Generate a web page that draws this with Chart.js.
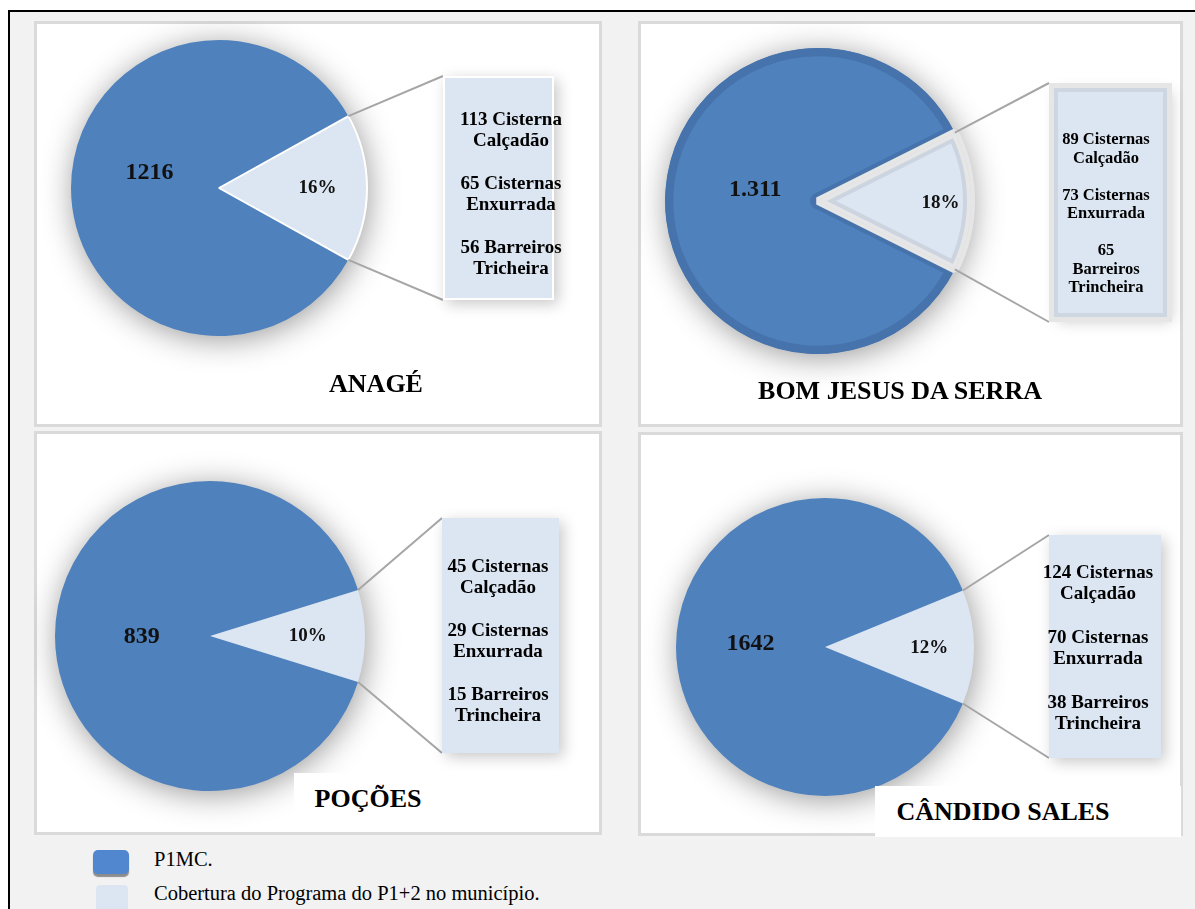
<!DOCTYPE html>
<html lang="pt">
<head>
<meta charset="utf-8">
<title>P1MC e P1+2 por município</title>
<script src="https://cdn.jsdelivr.net/npm/chart.js@4.4.1/dist/chart.umd.min.js"></script>
<style>
  html, body { margin: 0; padding: 0; background: #fff; }
  body { width: 1195px; height: 909px; position: relative; overflow: hidden;
         font-family: "Liberation Serif", "Times New Roman", serif; color: #000; }
  #frame { position: absolute; left: 8px; top: 10px; right: -10px; bottom: -10px;
           border-left: 2px solid #000; border-top: 2px solid #000; background: #f2f2f2; }
  .panel { position: absolute; box-sizing: border-box; background: #fff; border: 3px solid #dadada; }
  .chart { position: absolute; }
  .box { position: absolute; box-sizing: border-box; background: #dce6f2;
         box-shadow: 4px 4px 14px rgba(0, 0, 0, 0.22); }
  .box-white { border: 2px solid #fff; }
  .box-double { border: 4px solid #cdd6e1; outline: 5px solid #e6e6e6; }
  .box-text { position: absolute; width: 200px; font-weight: bold; text-align: center; white-space: nowrap; }
  .box-text p { margin: 0; }
  .title { position: absolute; font-weight: bold; font-size: 26px; line-height: 30px;
           white-space: nowrap; transform: translateX(-50%); }
  .title-bg { position: absolute; background: #fff; }
  .legend-key { position: absolute; }
  .legend-text { position: absolute; font-size: 20.5px; line-height: 24px; white-space: nowrap; }
</style>
</head>
<body>
<div id="frame"></div>
<script>
const DARK = '#4f81bd';
const LIGHT = '#dce6f2';

// data
const municipios = ['ANAGÉ', 'BOM JESUS DA SERRA', 'POÇÕES', 'CÂNDIDO SALES'];
const p1mc = [1216, 1311, 839, 1642];
const p1mcLabels = ['1216', '1.311', '839', '1642'];
const cisternasCalcadao = [113, 89, 45, 124];
const cisternasEnxurrada = [65, 73, 29, 70];
const barreirosTrincheira = [56, 65, 15, 38];
const coberturaLabels = ['16%', '18%', '10%', '12%'];
const itemLabels = [
  ['Cisterna\nCalçadão', 'Cisternas\nEnxurrada', 'Barreiros\nTricheira'],
  ['Cisternas\nCalçadão', 'Cisternas\nEnxurrada', '\nBarreiros\nTrincheira'],
  ['Cisternas\nCalçadão', 'Cisternas\nEnxurrada', 'Barreiros\nTrincheira'],
  ['Cisternas\nCalçadão', 'Cisternas\nEnxurrada', 'Barreiros\nTrincheira']
];
const seriesNames = ['P1MC.', 'Cobertura do Programa do P1+2 no município.'];

// page layout (pixels)
const layout = [
  { panel: [34, 21, 568, 406], pie: [219, 188, 148], box: [443, 76, 111, 224], boxClass: 'box-white',
    text: { cx: 511, top: 108, size: 19, lh: 21, gap: 22 }, title: { cx: 376, base: 393 },
    darkLbl: [0.47, -15], lightLbl: [0.665, 0], sliceEdge: 2, fancy: false },
  { panel: [638, 21, 545, 406], pie: [818, 201, 153], box: [1049, 83, 123, 239], boxClass: 'box-double',
    text: { cx: 1106, top: 130.2, size: 16.5, lh: 18.5, gap: 18.5 }, title: { cx: 900, base: 400 },
    darkLbl: [0.41, -11], lightLbl: [0.80, 2], sliceEdge: 0, fancy: true },
  { panel: [34, 431, 568, 404], pie: [210, 636, 155], box: [442, 518, 117, 235], boxClass: '',
    text: { cx: 498, top: 555, size: 19, lh: 21, gap: 22 }, title: { cx: 368, base: 808 },
    titleBg: [294, 773, 192, 59], darkLbl: [0.44, 1], lightLbl: [0.63, 0], sliceEdge: 0, fancy: false },
  { panel: [638, 432, 545, 404], pie: [825, 647, 149], box: [1049, 535, 112, 223], boxClass: '',
    text: { cx: 1098, top: 561, size: 19, lh: 21, gap: 23 }, title: { cx: 1003, base: 821 },
    titleBg: [875, 786, 306, 51], darkLbl: [0.50, -3], lightLbl: [0.70, 1], sliceEdge: 0, fancy: false }
];

const barOfPie = {
  id: 'barOfPie',
  beforeDatasetsDraw(chart) {
    // soft halo under the whole pie
    const arc = chart.getDatasetMeta(0).data[0];
    const ctx = chart.ctx;
    ctx.save();
    ctx.shadowColor = 'rgba(0, 0, 0, 0.42)';
    ctx.shadowBlur = 32;
    ctx.shadowOffsetX = 2;
    ctx.shadowOffsetY = 4;
    ctx.fillStyle = DARK;
    ctx.beginPath();
    ctx.arc(arc.x, arc.y, arc.outerRadius - 1, 0, Math.PI * 2);
    ctx.fill();
    ctx.restore();
  },
  afterDatasetsDraw(chart, args, opts) {
    const ctx = chart.ctx;
    const meta = chart.getDatasetMeta(0);
    const dark = meta.data[0].getProps(['x', 'y', 'startAngle', 'endAngle', 'outerRadius'], true);
    const light = meta.data[1].getProps(['x', 'y', 'startAngle', 'endAngle', 'outerRadius'], true);
    const R = light.outerRadius;

    // two-tone frame on the small slice (Bom Jesus da Serra style)
    if (opts.fancy) {
      const path = () => {
        ctx.beginPath();
        ctx.moveTo(light.x, light.y);
        ctx.arc(light.x, light.y, R, light.startAngle, light.endAngle);
        ctx.closePath();
      };
      ctx.save();
      ctx.lineJoin = 'bevel';
      path(); ctx.strokeStyle = '#e6e6e6'; ctx.lineWidth = 8; ctx.stroke();
      path(); ctx.clip();
      path(); ctx.strokeStyle = '#cbd4df'; ctx.lineWidth = 16; ctx.stroke();
      path(); ctx.strokeStyle = '#e6e6e6'; ctx.lineWidth = 8; ctx.stroke();
      ctx.restore();
    }

    // connector lines from the small slice to the box
    const [bx, by, bw, bh] = opts.box;
    ctx.save();
    ctx.strokeStyle = '#a6a6a6';
    ctx.lineWidth = 2;
    ctx.beginPath();
    ctx.moveTo(light.x + R * Math.cos(light.startAngle), light.y + R * Math.sin(light.startAngle));
    ctx.lineTo(bx, by);
    ctx.moveTo(light.x + R * Math.cos(light.endAngle), light.y + R * Math.sin(light.endAngle));
    ctx.lineTo(bx, by + bh);
    ctx.stroke();

    // slice labels
    ctx.fillStyle = '#111';
    ctx.textAlign = 'center';
    ctx.textBaseline = 'middle';
    const put = (a, f, dy, text, font) => {
      const mid = (a.startAngle + a.endAngle) / 2;
      ctx.font = font;
      ctx.fillText(text, a.x + Math.cos(mid) * a.outerRadius * f, a.y + Math.sin(mid) * a.outerRadius * f + dy);
    };
    put(dark, opts.darkLbl[0], opts.darkLbl[1], opts.darkText, 'bold 24px "Liberation Serif"');
    put(light, opts.lightLbl[0], opts.lightLbl[1], opts.lightText, 'bold 19px "Liberation Serif"');
    ctx.restore();
  }
};

function place(el, x, y, w, h) {
  el.style.left = x + 'px';
  el.style.top = y + 'px';
  if (w !== undefined) el.style.width = w + 'px';
  if (h !== undefined) el.style.height = h + 'px';
}

layout.forEach((L, i) => {
  const [px, py, pw, ph] = L.panel;
  const [cx, cy, r] = L.pie;

  const panel = document.createElement('div');
  panel.className = 'panel';
  place(panel, px, py, pw, ph);
  document.body.appendChild(panel);

  const wrap = document.createElement('div');
  wrap.className = 'chart';
  place(wrap, px, py, pw, ph);
  const canvas = document.createElement('canvas');
  canvas.width = pw;
  canvas.height = ph;
  wrap.appendChild(canvas);
  document.body.appendChild(wrap);

  const cobertura = cisternasCalcadao[i] + cisternasEnxurrada[i] + barreirosTrincheira[i];
  const total = p1mc[i] + cobertura;

  const ds = {
    data: [p1mc[i], cobertura],
    backgroundColor: [DARK, LIGHT],
    borderColor: ['#ffffff', '#ffffff'],
    borderWidth: [0, L.sliceEdge]
  };
  if (L.fancy) {
    ds.borderColor = ['#4673ab', '#e6e6e6'];
    ds.borderWidth = [8, 0];
    ds.borderAlign = 'inner';
  }

  new Chart(canvas, {
    type: 'pie',
    data: { labels: seriesNames, datasets: [ds] },
    options: {
      responsive: false,
      animation: false,
      events: [],
      radius: r,
      rotation: 90 + 180 * cobertura / total,
      layout: {
        padding: {
          left: cx - r - px,
          top: cy - r - py,
          right: px + pw - cx - r,
          bottom: py + ph - cy - r
        }
      },
      plugins: {
        legend: { display: false },
        tooltip: { enabled: false },
        barOfPie: {
          box: [L.box[0] - px, L.box[1] - py, L.box[2], L.box[3]],
          darkLbl: L.darkLbl,
          lightLbl: L.lightLbl,
          darkText: p1mcLabels[i],
          lightText: coberturaLabels[i],
          fancy: L.fancy
        }
      }
    },
    plugins: [barOfPie]
  });

  // callout box with the P1+2 breakdown
  const box = document.createElement('div');
  box.className = 'box ' + L.boxClass;
  if (L.boxClass === 'box-double') {
    place(box, L.box[0] + 5, L.box[1] + 5, L.box[2] - 10, L.box[3] - 10);
  } else {
    place(box, L.box[0], L.box[1], L.box[2], L.box[3]);
  }
  document.body.appendChild(box);

  const txt = document.createElement('div');
  txt.className = 'box-text';
  place(txt, L.text.cx - 100, L.text.top);
  txt.style.fontSize = L.text.size + 'px';
  txt.style.lineHeight = L.text.lh + 'px';
  const values = [cisternasCalcadao[i], cisternasEnxurrada[i], barreirosTrincheira[i]];
  values.forEach((v, k) => {
    const p = document.createElement('p');
    if (k > 0) p.style.marginTop = L.text.gap + 'px';
    (v + ' ' + itemLabels[i][k]).split('\n').forEach((line, n) => {
      if (n > 0) p.appendChild(document.createElement('br'));
      p.appendChild(document.createTextNode(line.trim()));
    });
    txt.appendChild(p);
  });
  document.body.appendChild(txt);

  if (L.titleBg) {
    const bg = document.createElement('div');
    bg.className = 'title-bg';
    place(bg, L.titleBg[0], L.titleBg[1], L.titleBg[2], L.titleBg[3]);
    document.body.appendChild(bg);
  }
  const title = document.createElement('div');
  title.className = 'title';
  title.textContent = municipios[i];
  place(title, L.title.cx, L.title.base - 24);
  document.body.appendChild(title);
});

// shared legend
const keyDark = document.createElement('div');
keyDark.className = 'legend-key';
place(keyDark, 93, 850, 36, 24);
keyDark.style.background = '#5087cf';
keyDark.style.borderRadius = '5px';
keyDark.style.boxShadow = '0 3px 1px #8c8c8c';
document.body.appendChild(keyDark);

const keyLight = document.createElement('div');
keyLight.className = 'legend-key';
place(keyLight, 96, 885, 32, 30);
keyLight.style.background = LIGHT;
keyLight.style.borderRadius = '4px';
document.body.appendChild(keyLight);

[866, 900].forEach((base, k) => {
  const t = document.createElement('div');
  t.className = 'legend-text';
  t.textContent = seriesNames[k];
  place(t, 154, base - 19);
  document.body.appendChild(t);
});
</script>
</body>
</html>
